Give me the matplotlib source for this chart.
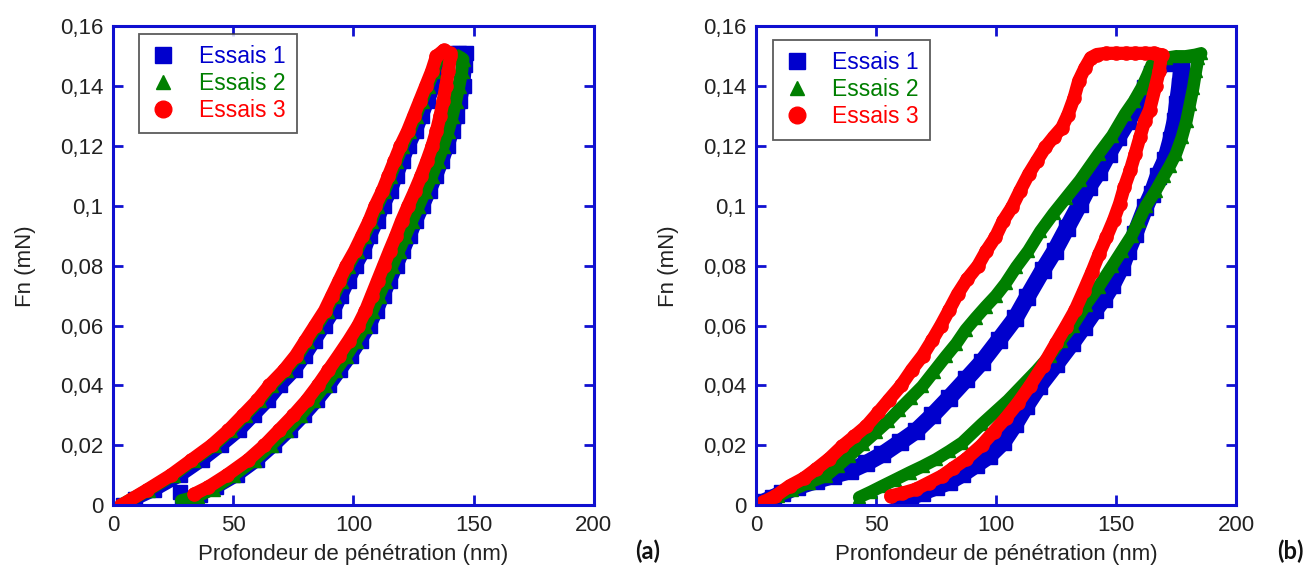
import numpy as np
import matplotlib.pyplot as plt
from matplotlib.lines import Line2D

plt.rcParams['font.family'] = ['Liberation Sans', 'DejaVu Sans']

# ---- data: (depth nm, Fn mN) ----
# panel (a)
a_essai1 = [(4, 0), (9, 0.002), (17, 0.005), (28, 0.01), (37, 0.015), (45, 0.02), (52.5, 0.025),
            (58.5, 0.03), (64.5, 0.035), (69.5, 0.04), (75.5, 0.045), (80, 0.05), (84, 0.055),
            (88, 0.06), (92, 0.065), (95, 0.07), (98, 0.075), (101, 0.08), (104.5, 0.085),
            (107, 0.09), (110, 0.095), (112.5, 0.1), (115.5, 0.105), (118, 0.11), (120.5, 0.115),
            (123, 0.12), (126, 0.125), (128.5, 0.13), (131, 0.135), (133.5, 0.14), (136, 0.145),
            (138, 0.15), (141, 0.151), (144, 0.151), (147, 0.151),
            (146.5, 0.147), (145.8, 0.14), (144.5, 0.135), (143, 0.13), (141.3, 0.125),
            (139.3, 0.12), (137, 0.115), (134.5, 0.11), (131.8, 0.105), (129, 0.1), (126.2, 0.095),
            (123.5, 0.09), (120.8, 0.085), (118, 0.08), (115.3, 0.075), (112.5, 0.07),
            (109.8, 0.065), (106.8, 0.06), (103, 0.055), (99, 0.05), (94.5, 0.045), (90, 0.04),
            (85, 0.035), (79.5, 0.03), (73.5, 0.025), (67, 0.02), (60, 0.015), (51.5, 0.01),
            (43, 0.006), (36, 0.0035), (31, 0.0025), (28.5, 0.002), (28, 0.0045)]
a_essai2 = [(3.5, 0), (14.5, 0.005), (24.8, 0.01), (33.2, 0.015), (41.8, 0.02), (48.8, 0.025),
            (54.8, 0.03), (60.8, 0.035), (65.8, 0.04), (71.8, 0.045), (76.8, 0.05), (80.8, 0.055),
            (84.8, 0.06), (88.8, 0.065), (91.8, 0.07), (94.8, 0.075), (97.8, 0.08), (101.3, 0.085),
            (104.3, 0.09), (107.3, 0.095), (109.8, 0.1), (112.8, 0.105), (115.3, 0.11),
            (117.8, 0.115), (120.3, 0.12), (123.3, 0.125), (125.8, 0.13), (128.3, 0.135),
            (130.8, 0.14), (133.3, 0.145), (135.3, 0.15), (138, 0.1505), (141, 0.15),
            (143.5, 0.15), (145.5, 0.149),
            (145, 0.145), (143.8, 0.14), (142.5, 0.135), (141, 0.13), (139.3, 0.125),
            (137.3, 0.12), (135, 0.115), (132.5, 0.11), (129.8, 0.105), (127, 0.1), (124.2, 0.095),
            (121.5, 0.09), (118.8, 0.085), (116, 0.08), (113.3, 0.075), (110.5, 0.07),
            (107.8, 0.065), (104.8, 0.06), (101, 0.055), (97, 0.05), (92.5, 0.045), (88, 0.04),
            (83.2, 0.035), (77.8, 0.03), (71.8, 0.025), (65.5, 0.02), (58.5, 0.015), (50, 0.01),
            (41.5, 0.0055), (35, 0.003), (31, 0.002), (28.5, 0.0015)]
a_essai3 = [(3.5, 0), (14, 0.005), (24, 0.01), (32.5, 0.015), (41, 0.02), (48, 0.025), (54, 0.03),
            (60, 0.035), (65, 0.04), (71, 0.045), (76, 0.05), (80, 0.055), (84, 0.06), (88, 0.065),
            (91, 0.07), (94, 0.075), (97, 0.08), (100.5, 0.085), (103.5, 0.09), (106.5, 0.095),
            (109, 0.1), (112, 0.105), (114.5, 0.11), (117, 0.115), (119.5, 0.12), (122.5, 0.125),
            (125, 0.13), (127.5, 0.135), (130, 0.14), (132.5, 0.145), (134.5, 0.15),
            (137.5, 0.152), (140, 0.151),
            (140.3, 0.15), (139.5, 0.145), (138.4, 0.14), (137.3, 0.135), (136, 0.13),
            (134.5, 0.125), (132.7, 0.12), (130.5, 0.115), (128.1, 0.11), (125.5, 0.105),
            (122.7, 0.1), (120, 0.095), (117.6, 0.09), (115, 0.085), (112.5, 0.08), (110, 0.075),
            (107.5, 0.07), (105, 0.065), (101.9, 0.06), (98, 0.055), (93.8, 0.05), (89.5, 0.045),
            (85.2, 0.04), (80.5, 0.035), (75, 0.03), (69, 0.025), (63, 0.02), (56, 0.015),
            (47.3, 0.01), (39.5, 0.006), (33.8, 0.0037)]

# panel (b)
b_essai1 = [(3, 0.001), (7, 0.0025), (11, 0.004), (17, 0.006), (25, 0.0081), (32, 0.0098),
            (39, 0.0114), (46, 0.014), (52.7, 0.017), (60, 0.021), (66.6, 0.0247), (73.5, 0.03),
            (80.4, 0.0358), (87.5, 0.042), (94.3, 0.048), (101.2, 0.0552), (108.1, 0.0625),
            (113, 0.0695), (119.5, 0.0785), (124.5, 0.085), (129.5, 0.0925), (135, 0.1007),
            (138.6, 0.1063), (143, 0.1115), (146.9, 0.1174), (151, 0.123), (155.2, 0.1285),
            (159, 0.134), (162.1, 0.1395), (165, 0.144), (167.6, 0.1473),
            (171, 0.1478), (174, 0.148), (177, 0.148),
            (177.3, 0.1455), (176.5, 0.14), (175.5, 0.134), (174.6, 0.1285), (172.8, 0.122),
            (170.5, 0.1152), (167.5, 0.11), (164.9, 0.1041), (162.3, 0.0996), (158, 0.0907),
            (155, 0.085), (152.4, 0.0796), (148.5, 0.0735), (145, 0.069), (141.4, 0.0652),
            (136.5, 0.0595), (131.7, 0.0541), (125, 0.047), (118, 0.0397), (112.5, 0.033),
            (108, 0.027), (103, 0.021), (97, 0.0163), (91.5, 0.0133), (86, 0.0103), (80.4, 0.0077),
            (75, 0.006), (69.3, 0.0042), (64, 0.0025), (59.6, 0.0014)]
b_essai2 = [(3, 0.001), (9, 0.003), (15, 0.005), (22, 0.0075), (29.2, 0.0098), (34, 0.013),
            (38.9, 0.0164), (44.5, 0.0205), (50, 0.0244), (55, 0.028), (59.7, 0.0319),
            (64.5, 0.0358), (69.3, 0.0397), (74, 0.0445), (79.1, 0.0497), (83.5, 0.054),
            (87.4, 0.0586), (91.5, 0.0625), (95.7, 0.0663), (100, 0.07), (104, 0.0741),
            (108.5, 0.0796), (113.5, 0.085), (118.5, 0.0915), (124, 0.0975), (129, 0.1025),
            (135, 0.1085), (142.8, 0.1174), (148.5, 0.1235), (153.8, 0.1307), (157.5, 0.135),
            (160.7, 0.1395), (163, 0.1435), (165, 0.1473), (167, 0.149),
            (171, 0.1495), (175, 0.15), (179, 0.15), (183, 0.1505), (185.5, 0.151),
            (184.3, 0.1495), (183.3, 0.145), (182.2, 0.1395), (180.8, 0.134), (179.4, 0.1285),
            (177.5, 0.123), (175, 0.1174), (172.5, 0.1135), (170, 0.11), (166.5, 0.105),
            (162.5, 0.1), (159.5, 0.095), (156.5, 0.09), (152.5, 0.085), (148.5, 0.08),
            (142.8, 0.073), (137.5, 0.067), (132, 0.06), (127, 0.055), (122.5, 0.05), (117, 0.045),
            (111, 0.04), (105, 0.035), (99.5, 0.031), (94, 0.027), (86, 0.0209), (80.5, 0.018),
            (75, 0.0153), (69.5, 0.013), (64, 0.0109), (58, 0.0085), (52.7, 0.0064), (48, 0.0045),
            (43, 0.0026)]
b_essai3 = [(3, 0.001), (8, 0.003), (14, 0.0064), (20, 0.009), (25, 0.012), (30.5, 0.0155),
            (36, 0.0197), (41, 0.023), (46, 0.0264), (51, 0.031), (55.5, 0.0353), (60.5, 0.04),
            (65, 0.0453), (69.5, 0.05), (73.5, 0.0552), (77, 0.06), (80.5, 0.0652), (84, 0.0705),
            (88, 0.0755), (92.5, 0.08), (96, 0.085), (99.8, 0.0896), (103, 0.095), (106.7, 0.0996),
            (110, 0.105), (113.7, 0.1107), (117, 0.115), (120.6, 0.1196), (124, 0.123),
            (127.5, 0.1262), (130, 0.1305), (132.5, 0.136), (134.5, 0.1418), (137, 0.146),
            (139.5, 0.1495), (142, 0.1506),
            (146, 0.151), (150, 0.151), (154, 0.151), (158, 0.151), (162, 0.151), (166, 0.151),
            (169, 0.1505),
            (168, 0.145), (166.5, 0.14), (164, 0.132), (162, 0.1285), (160, 0.123), (158, 0.1174),
            (156, 0.112), (153.5, 0.1063), (151.5, 0.1007), (149, 0.0952), (146, 0.0895),
            (143, 0.084), (140, 0.078), (136.5, 0.0715), (133, 0.0652), (129, 0.0595),
            (125, 0.0541), (119.5, 0.0465), (114, 0.0397), (109, 0.034), (104, 0.029),
            (99, 0.0245), (94, 0.02), (87.4, 0.0153), (82, 0.0123), (77.6, 0.0098), (72, 0.0075),
            (66.6, 0.0053), (61, 0.004), (56.2, 0.0031)]

labels = ['Essais 1', 'Essais 2', 'Essais 3']
colors = ['#0000cd', '#007f00', '#ff0000']
markers = ['s', '^', 'o']
xticks = [0, 50, 100, 150, 200]
yticks = [0, 0.02, 0.04, 0.06, 0.08, 0.1, 0.12, 0.14, 0.16]
ytick_labels = ['0', '0,02', '0,04', '0,06', '0,08', '0,1', '0,12', '0,14', '0,16']

FRAME = '#1010d0'
TXT = '#222222'


def draw_panel(ax, series, widths, xlabel, anchor):
    for pts, col, mk, lw in zip(series, colors, markers, widths):
        arr = np.array(pts)
        ax.plot(arr[:, 0], arr[:, 1], color=col, lw=lw,
                solid_capstyle='round', solid_joinstyle='round')
        ax.plot(arr[:, 0], arr[:, 1], ls='none', marker=mk, ms=lw, color=col, mec=col)

    ax.set_xlim(0, 200)
    ax.set_ylim(0, 0.16)
    ax.set_xticks(xticks)
    ax.set_yticks(yticks)
    ax.set_yticklabels(ytick_labels)
    for sp in ax.spines.values():
        sp.set_color(FRAME)
        sp.set_linewidth(2.2)
    ax.tick_params(direction='in', length=7, width=2, color=FRAME, top=True, right=True,
                   labelsize=16, labelcolor=TXT, pad=7)
    ax.set_xlabel(xlabel, fontsize=16, color=TXT, labelpad=6)
    ax.set_ylabel('Fn (mN)', fontsize=16, color=TXT, labelpad=17)

    handles = [Line2D([], [], ls='none', marker=mk, color=col, ms=ms)
               for mk, col, ms in zip(markers, colors, [11, 10, 12])]
    leg = ax.legend(handles, labels, loc='upper left', bbox_to_anchor=anchor,
                    borderaxespad=0, fancybox=False, edgecolor='#333333', fontsize=16.5,
                    handlelength=1.1, handletextpad=1.0, labelspacing=0.17, borderpad=0.5)
    leg.get_frame().set_linewidth(1.3)
    for t, col in zip(leg.get_texts(), colors):
        t.set_color(col)


fig = plt.figure(figsize=(13.14, 5.74), dpi=100)
ax_a = fig.add_axes([0.086, 0.120, 0.366, 0.834])
ax_b = fig.add_axes([0.5753, 0.120, 0.3653, 0.834])

draw_panel(ax_a, [a_essai1, a_essai2, a_essai3], [9.5, 9.5, 9.5],
           'Profondeur de pénétration (nm)', (0.054, 0.985))
draw_panel(ax_b, [b_essai1, b_essai2, b_essai3], [12, 9, 9.5],
           'Pronfondeur de pénétration (nm)', (0.035, 0.972))

fig.text(0.493, 0.04, '(a)', fontsize=17, fontweight='bold', family=['Lato', 'DejaVu Sans'],
         ha='center', va='center', color='#111111')
fig.text(0.982, 0.04, '(b)', fontsize=17, fontweight='bold', family=['Lato', 'DejaVu Sans'],
         ha='center', va='center', color='#111111')

fig.savefig('out.png', dpi=100)
